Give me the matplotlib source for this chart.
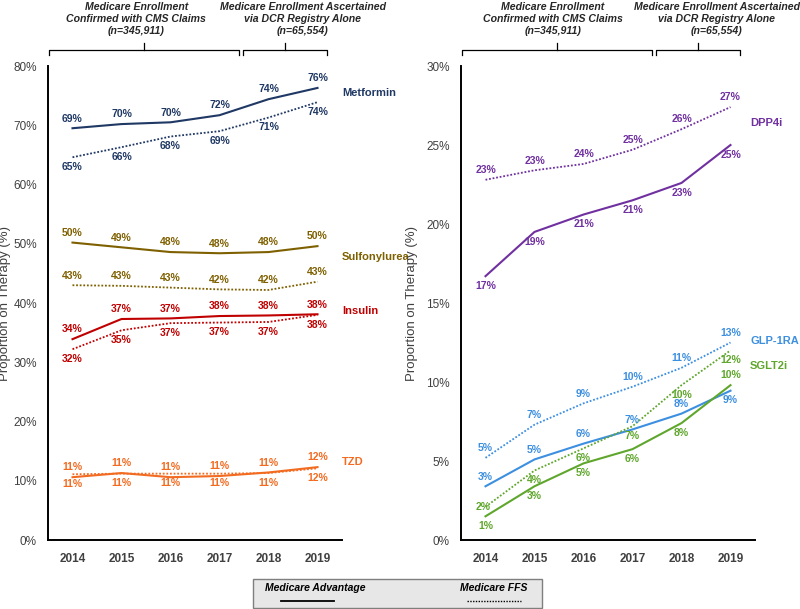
import matplotlib
matplotlib.use("Agg")
import matplotlib.pyplot as plt
from matplotlib.patches import Rectangle
from matplotlib.lines import Line2D

plt.rcParams["font.family"] = ["Liberation Sans", "DejaVu Sans"]

years = ["2014", "2015", "2016", "2017", "2018", "2019"]

# left panel (% on therapy): MA = solid, FFS = dotted
metformin_ma = [69.5, 70.2, 70.5, 71.7, 74.4, 76.3]
metformin_ffs = [64.6, 66.3, 68.1, 69.0, 71.3, 73.9]
metformin_ma_lbl = ["69%", "70%", "70%", "72%", "74%", "76%"]
metformin_ffs_lbl = ["65%", "66%", "68%", "69%", "71%", "74%"]

sulf_ma = [50.2, 49.4, 48.6, 48.4, 48.6, 49.6]
sulf_ffs = [43.0, 42.9, 42.6, 42.3, 42.2, 43.6]
sulf_ma_lbl = ["50%", "49%", "48%", "48%", "48%", "50%"]
sulf_ffs_lbl = ["43%", "43%", "43%", "42%", "42%", "43%"]

insulin_ma = [33.9, 37.3, 37.4, 37.8, 37.9, 38.1]
insulin_ffs = [32.2, 35.4, 36.6, 36.7, 36.8, 38.0]
insulin_ma_lbl = ["34%", "37%", "37%", "38%", "38%", "38%"]
insulin_ffs_lbl = ["32%", "35%", "37%", "37%", "37%", "38%"]

tzd_ma = [10.6, 11.3, 10.6, 10.8, 11.4, 12.3]
tzd_ffs = [11.1, 11.2, 11.2, 11.2, 11.3, 12.1]
tzd_ma_lbl = ["11%", "11%", "11%", "11%", "11%", "12%"]
tzd_ffs_lbl = ["11%", "11%", "11%", "11%", "11%", "12%"]

# right panel
dpp4_ma = [16.7, 19.5, 20.6, 21.5, 22.6, 25.0]
dpp4_ffs = [22.8, 23.4, 23.8, 24.7, 26.0, 27.4]
dpp4_ma_lbl = ["17%", "19%", "21%", "21%", "23%", "25%"]
dpp4_ffs_lbl = ["23%", "23%", "24%", "25%", "26%", "27%"]

glp1_ma = [3.4, 5.1, 6.1, 7.0, 8.0, 9.45]
glp1_ffs = [5.2, 7.3, 8.65, 9.7, 10.9, 12.5]
glp1_ma_lbl = ["3%", "5%", "6%", "7%", "8%", "9%"]
glp1_ffs_lbl = ["5%", "7%", "9%", "10%", "11%", "13%"]

sglt2_ma = [1.5, 3.4, 4.85, 5.75, 7.4, 9.8]
sglt2_ffs = [2.1, 4.4, 5.8, 7.2, 9.8, 12.0]
sglt2_ma_lbl = ["1%", "3%", "5%", "6%", "8%", "10%"]
sglt2_ffs_lbl = ["2%", "4%", "6%", "7%", "10%", "12%"]

C_MET = "#1F3864"
C_SULF = "#7F6000"
C_INS = "#C00000"
C_TZD = "#F26B21"
C_DPP = "#7030A0"
C_GLP = "#3D8FE0"
C_SGLT = "#5FA62C"
GREY = "#404040"

fig = plt.figure(figsize=(8, 6.09), dpi=100)
ax_l = fig.add_axes([0.06, 0.1133, 0.3675, 0.7783])
ax_r = fig.add_axes([0.57625, 0.1133, 0.3675, 0.7783])

x = [i + 0.5 for i in range(len(years))]


def draw_series(ax, vals, labels, color, dotted, sides, nudge=None):
    if dotted:
        ax.plot(x, vals, color=color, lw=1.3, ls=(0, (1, 1)), clip_on=False)
    else:
        ax.plot(x, vals, color=color, lw=1.5, clip_on=False)
    for i, (xi, v, t) in enumerate(zip(x, vals, labels)):
        dx, dy = 0, 7 * sides[i]
        if nudge and i in nudge:
            dx, dy = nudge[i]
        ax.annotate(t, (xi, v), xytext=(dx, dy), textcoords="offset points",
                    ha="center", va="center", fontsize=7.5, fontweight="bold",
                    color=color, annotation_clip=False)


up = [1] * 6
down = [-1] * 6

draw_series(ax_l, metformin_ma, metformin_ma_lbl, C_MET, False, up)
draw_series(ax_l, metformin_ffs, metformin_ffs_lbl, C_MET, True, down)
draw_series(ax_l, sulf_ma, sulf_ma_lbl, C_SULF, False, up)
draw_series(ax_l, sulf_ffs, sulf_ffs_lbl, C_SULF, True, up)
draw_series(ax_l, insulin_ma, insulin_ma_lbl, C_INS, False, up)
draw_series(ax_l, insulin_ffs, insulin_ffs_lbl, C_INS, True, down)
draw_series(ax_l, tzd_ma, tzd_ma_lbl, C_TZD, False, up)
draw_series(ax_l, tzd_ffs, tzd_ffs_lbl, C_TZD, True, down)

draw_series(ax_r, dpp4_ma, dpp4_ma_lbl, C_DPP, False, down)
draw_series(ax_r, dpp4_ffs, dpp4_ffs_lbl, C_DPP, True, up)
draw_series(ax_r, glp1_ma, glp1_ma_lbl, C_GLP, False, [1, 1, 1, 1, 1, -1])
draw_series(ax_r, glp1_ffs, glp1_ffs_lbl, C_GLP, True, up)
draw_series(ax_r, sglt2_ma, sglt2_ma_lbl, C_SGLT, False, [-1, -1, -1, -1, -1, 1])
draw_series(ax_r, sglt2_ffs, sglt2_ffs_lbl, C_SGLT, True, down, nudge={0: (-2, 0)})

# series names
name_style = dict(fontsize=8, fontweight="bold", ha="left", va="center", clip_on=False)
ax_l.text(6.0, 75.4, "Metformin", color=C_MET, **name_style)
ax_l.text(6.0, 47.8, "Sulfonylurea", color=C_SULF, **name_style)
ax_l.text(6.0, 38.6, "Insulin", color=C_INS, **name_style)
ax_l.text(6.0, 13.2, "TZD", color=C_TZD, **name_style)
ax_r.text(5.9, 26.4, "DPP4i", color=C_DPP, **name_style)
ax_r.text(5.9, 12.6, "GLP-1RA", color=C_GLP, **name_style)
ax_r.text(5.9, 11.0, "SGLT2i", color=C_SGLT, **name_style)

panels = [(ax_l, 80, 10, -0.125, 1.8, 5.2), (ax_r, 30, 5, -0.146, 1.87, 5.22)]
for ax, ymax, step, lab_x, hx1, hx2 in panels:
    ax.set_xlim(0, 6)
    ax.set_ylim(0, ymax)
    ax.set_xticks(x)
    ax.set_xticklabels(years, fontsize=8.5, fontweight="bold", color=GREY)
    ax.set_yticks(range(0, ymax + 1, step))
    ax.set_yticklabels([f"{v}%" for v in range(0, ymax + 1, step)], fontsize=8.5, color=GREY)
    ax.tick_params(length=0, pad=8)
    ax.tick_params(axis="x", pad=9)
    for s in ["top", "right"]:
        ax.spines[s].set_visible(False)
    for s in ["left", "bottom"]:
        ax.spines[s].set_linewidth(1.4)
        ax.spines[s].set_color("black")
    ax.set_ylabel("Proportion on Therapy (%)", fontsize=9.5, color=GREY)
    ax.yaxis.set_label_coords(lab_x, 0.5)

    # enrollment brackets
    tr = ax.get_xaxis_transform()
    for x0, x1, xc in [(0.02, 3.9, 1.96), (3.97, 5.69, 4.84)]:
        ax.plot([x0, x0, x1, x1], [1.023, 1.034, 1.034, 1.023], color="black",
                lw=0.9, transform=tr, clip_on=False)
        ax.plot([xc, xc], [1.034, 1.049], color="black", lw=0.9, transform=tr, clip_on=False)
    hdr = dict(transform=tr, ha="center", va="center", fontsize=7.6, fontweight="bold",
               style="italic", color="#262626", linespacing=1.3, clip_on=False)
    ax.text(hx1, 1.099, "Medicare Enrollment\nConfirmed with CMS Claims\n(n=345,911)", **hdr)
    ax.text(hx2, 1.099, "Medicare Enrollment Ascertained\nvia DCR Registry Alone\n(n=65,554)", **hdr)

# shared legend box at the bottom
fig.patches.append(Rectangle((253 / 800, 1 - 608 / 609), 289 / 800, 29 / 609,
                             transform=fig.transFigure, facecolor="#E7E7E7",
                             edgecolor="#7F7F7F", lw=1.0))
fig.text(265 / 800, 1 - 588 / 609, "Medicare Advantage", fontsize=7.5, fontweight="bold",
         style="italic", color="black", ha="left", va="center")
fig.text(527 / 800, 1 - 588 / 609, "Medicare FFS", fontsize=7.5, fontweight="bold",
         style="italic", color="black", ha="right", va="center")
fig.lines.append(Line2D([281 / 800, 334 / 800], [1 - 601 / 609] * 2, transform=fig.transFigure,
                        color="black", lw=1.3))
fig.lines.append(Line2D([467 / 800, 521 / 800], [1 - 601 / 609] * 2, transform=fig.transFigure,
                        color="black", lw=1.0, ls=(0, (1, 1))))

fig.savefig("out.png", dpi=100)
